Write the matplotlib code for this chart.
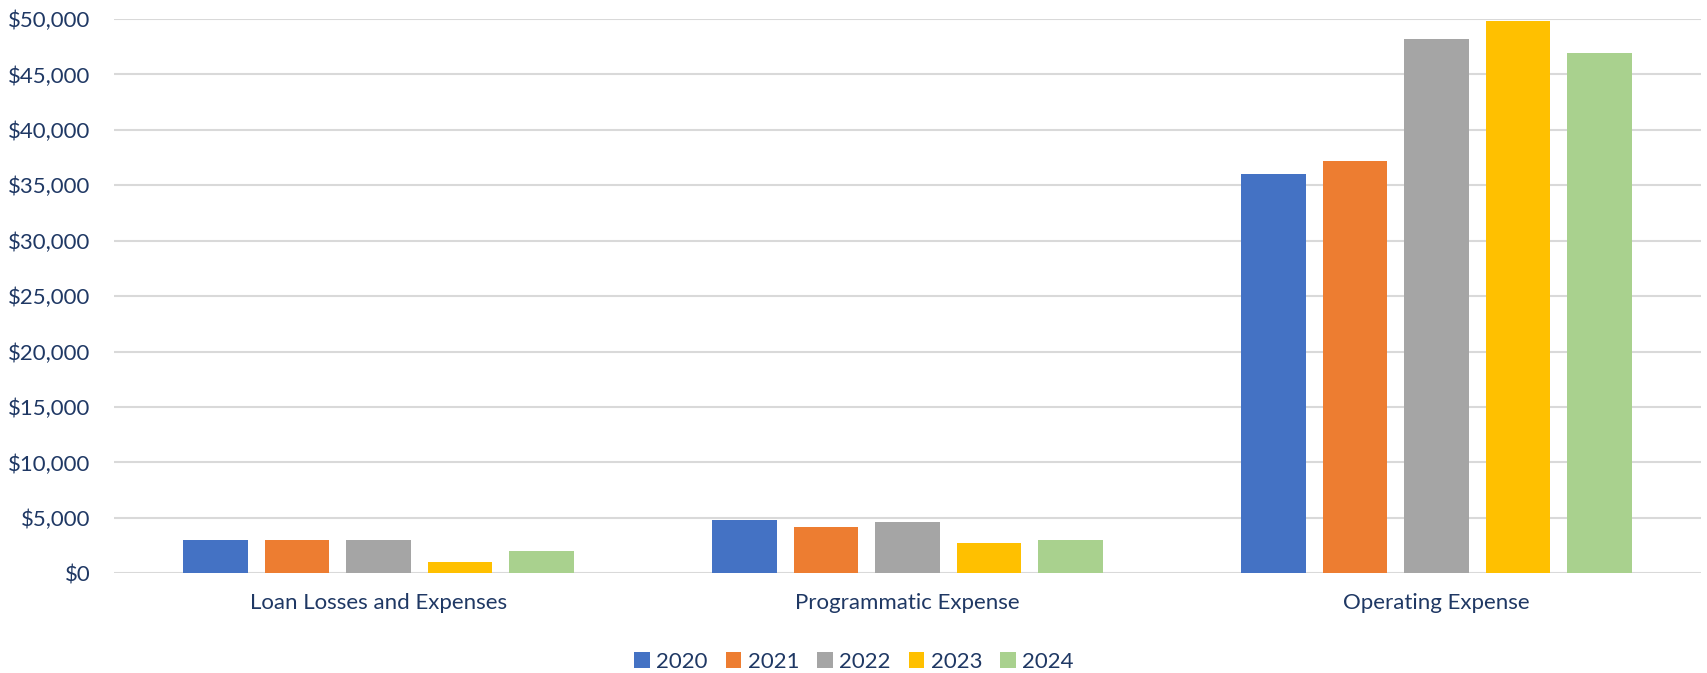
import numpy as np
import matplotlib.pyplot as plt
from matplotlib.ticker import FuncFormatter

categories = ['Loan Losses and Expenses', 'Programmatic Expense', 'Operating Expense']
years = ['2020', '2021', '2022', '2023', '2024']
v2020 = [3000, 4850, 36050]
v2021 = [3000, 4150, 37230]
v2022 = [3000, 4630, 48170]
v2023 = [1000, 2740, 49820]
v2024 = [2000, 3000, 46900]
series = [v2020, v2021, v2022, v2023, v2024]
colors = ['#4472C4', '#ED7D31', '#A5A5A5', '#FFC000', '#A9D18E']
text_col = '#1F3864'

plt.rcParams['font.family'] = ['Lato', 'DejaVu Sans']

fig = plt.figure(figsize=(17.08, 6.73), dpi=100)
ax = fig.add_axes([114 / 1708, 1 - 573.3 / 673, 1587 / 1708, (573.3 - 19) / 673])

x = np.arange(len(categories))
step = 0.154
width = 0.122
for i, (vals, c, y) in enumerate(zip(series, colors, years)):
    ax.bar(x + (i - 2) * step, vals, width, color=c, label=y, zorder=3)

ax.set_xlim(-0.5, 2.5)
ax.set_ylim(0, 50000)
ax.set_yticks(np.arange(0, 50001, 5000))
ax.yaxis.set_major_formatter(FuncFormatter(lambda v, p: '${:,.0f}'.format(v)))
ax.set_xticks(x)
ax.set_xticklabels(categories)
ax.tick_params(axis='both', length=0, labelsize=16, labelcolor=text_col)
ax.tick_params(axis='x', pad=14)
ax.tick_params(axis='y', pad=17)
ax.grid(axis='y', color='#D9D9D9', linewidth=1.5, zorder=0)
for s in ax.spines.values():
    s.set_visible(False)

leg = fig.legend(loc='center', bbox_to_anchor=(0.5, 1 - 662 / 673), ncol=5, frameon=False,
                 fontsize=16, handlelength=0.7, handleheight=0.7, handletextpad=0.3,
                 columnspacing=0.8)
for t in leg.get_texts():
    t.set_color(text_col)

fig.savefig('out.png', dpi=100)
